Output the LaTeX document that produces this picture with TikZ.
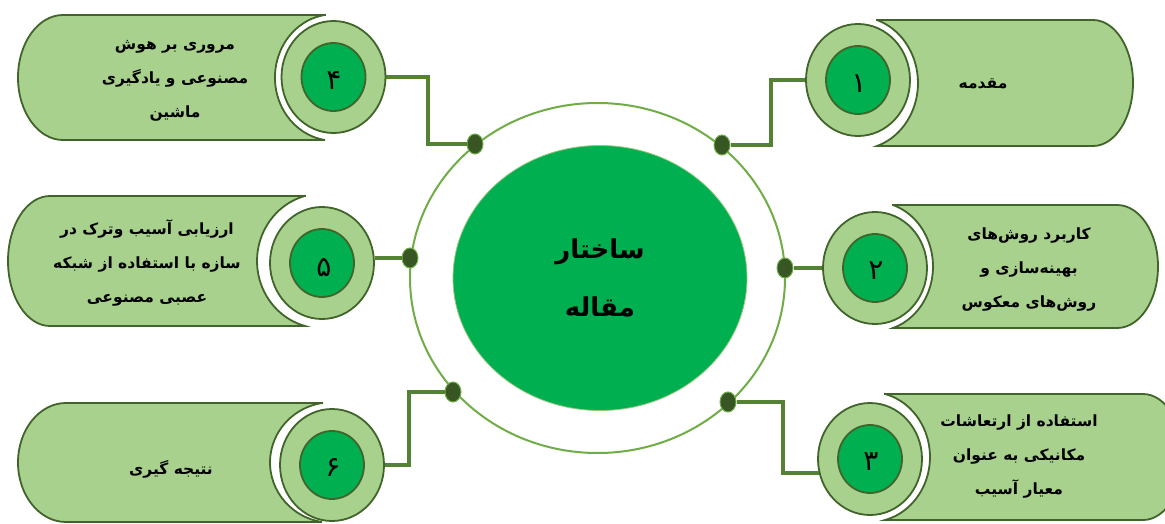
\documentclass[tikz,border=0pt]{standalone}
\usepackage{fontspec}
\usetikzlibrary{shapes.geometric}
\newfontfamily\fa[Script=Arabic]{DejaVu Sans}
\TeXXeTstate=1
\definecolor{boxfill}{HTML}{A9D18E}
\definecolor{boxline}{HTML}{41642A}
\definecolor{bright}{HTML}{00B050}
\definecolor{ringc}{HTML}{70AD47}
\definecolor{connc}{HTML}{548235}
\definecolor{dotc}{HTML}{375623}
\begin{document}
\begin{tikzpicture}[x=1pt,y=-1pt,
 boxsty/.style={fill=boxfill,draw=boxline,line width=1.8pt},
 outerc/.style={ellipse,fill=boxfill,draw=boxline,line width=1.8pt,minimum width=104pt,minimum height=112pt,inner sep=0pt},
 innerc/.style={ellipse,fill=bright,draw=boxline,line width=1.8pt,minimum width=64pt,minimum height=68pt,inner sep=0pt},
 numsty/.style={inner sep=0pt,font=\fa\fontsize{28}{30}\selectfont},
 conn/.style={draw=connc,line width=4pt},
 dotsty/.style={ellipse,fill=dotc,draw=ringc,line width=1pt,minimum width=16pt,minimum height=20pt,inner sep=0pt},
 txt/.style={align=center,font=\fa\bfseries\fontsize{15.5}{34}\selectfont,inner sep=0pt},
]
\fill[white] (0,0) rectangle (1165,524);
\useasboundingbox (0,0) rectangle (1165,524);

% boxes (right side)
\path[boxsty] (877,20) -- (1093,20) arc[start angle=-90,end angle=90,x radius=40,y radius=63]
  -- (877,146) arc[start angle=71.5,end angle=-71.5,x radius=60,y radius=66.4] -- cycle;
\path[boxsty] (893,205) -- (1117,205) arc[start angle=-90,end angle=90,x radius=41,y radius=61.5]
  -- (893,328) arc[start angle=71.9,end angle=-71.9,x radius=58,y radius=64.7] -- cycle;
\path[boxsty] (885,394) -- (1143,394) arc[start angle=-90,end angle=90,x radius=40,y radius=63]
  -- (885,520) arc[start angle=75.5,end angle=-75.5,x radius=60,y radius=65.1] -- cycle;
% boxes (left side)
\path[boxsty] (325,15) -- (63,15) arc[start angle=270,end angle=90,x radius=45,y radius=62.5]
  -- (325,140) arc[start angle=98.3,end angle=261.7,x radius=58.5,y radius=63.2] -- cycle;
\path[boxsty] (305,196) -- (50,196) arc[start angle=270,end angle=90,x radius=42,y radius=65]
  -- (305,326) arc[start angle=105.2,end angle=254.8,x radius=65,y radius=67.4] -- cycle;
\path[boxsty] (322,403) -- (66,403) arc[start angle=270,end angle=90,x radius=48,y radius=59.5]
  -- (322,522) arc[start angle=99.3,end angle=260.7,x radius=62,y radius=60.3] -- cycle;

% number circles
\node[outerc] (o1) at (858,80) {};
\node[innerc] (c1) at (858,80) {};
\node[outerc] (o2) at (875,268) {};
\node[innerc] (c2) at (875,268) {};
\node[outerc] (o3) at (870,459) {};
\node[innerc] (c3) at (870,459) {};
\node[outerc] (o4) at (333.5,77) {};
\node[innerc] (c4) at (333.5,77) {};
\node[outerc] (o5) at (322,263) {};
\node[innerc] (c5) at (322,263) {};
\node[outerc] (o6) at (332,465) {};
\node[innerc] (c6) at (332,465) {};
\node[numsty] (n1) at (859,84) {۱};
\node[numsty] (n2) at (876,271) {۲};
\node[numsty] (n3) at (871,462) {۳};
\node[numsty] (n4) at (334,80) {۴};
\node[numsty] (n5) at (324,268) {۵};
\node[numsty] (n6) at (333,468) {۶};

% box texts
\node[txt] (t1) at (983,84) {\beginR مقدمه\endR};
\node[txt] (t2) at (1029,270) {\beginR کاربرد روش‌های\endR\\\beginR بهینه‌سازی و\endR\\\beginR روش‌های معکوس\endR};
\node[txt] (t3) at (1019,457) {\beginR استفاده از ارتعاشات\endR\\\beginR مکانیکی به عنوان\endR\\\beginR معیار آسیب\endR};
\node[txt] (t4) at (175,81) {\beginR مروری بر هوش\endR\\\beginR مصنوعی و یادگیری\endR\\\beginR ماشین\endR};
\node[txt] (t5) at (147,263) {\beginR ارزیابی آسیب  وترک در\endR\\\beginR سازه با استفاده از شبکه\endR\\\beginR عصبی مصنوعی\endR};
\node[txt] (t6) at (171,469) {\beginR نتیجه گیری\endR};

% centre
\node[ellipse,draw=ringc,line width=2pt,minimum width=375pt,minimum height=350pt,inner sep=0pt] (ring) at (597.5,278) {};
\node[ellipse,fill=bright,draw=ringc!70,line width=0.8pt,minimum width=294pt,minimum height=265pt,inner sep=0pt,
  align=center,font=\fa\bfseries\fontsize{26}{58}\selectfont] (core) at (600,278) {\beginR ساختار\endR\\\beginR مقاله\endR};

% dots
\node[dotsty] (d1) at (722,145) {};
\node[dotsty] (d2) at (785,268) {};
\node[dotsty] (d3) at (728,402) {};
\node[dotsty] (d4) at (475,144) {};
\node[dotsty] (d5) at (410,258) {};
\node[dotsty] (d6) at (453,392) {};

% connectors
\draw[conn] (d1.east) -- ++(40,0) |- (o1.west);
\draw[conn] (d2.east) -- (o2.west);
\draw[conn] (d3.east) -- ++(46,0) |- (o3.195);
\draw[conn] (o4.east) -- ++(42,0) |- (d4.west);
\draw[conn] (d5.west) -- (d5.west -| o5.east);
\draw[conn] (o6.east) -- ++(24,0) |- (d6.west);
\end{tikzpicture}
\end{document}
